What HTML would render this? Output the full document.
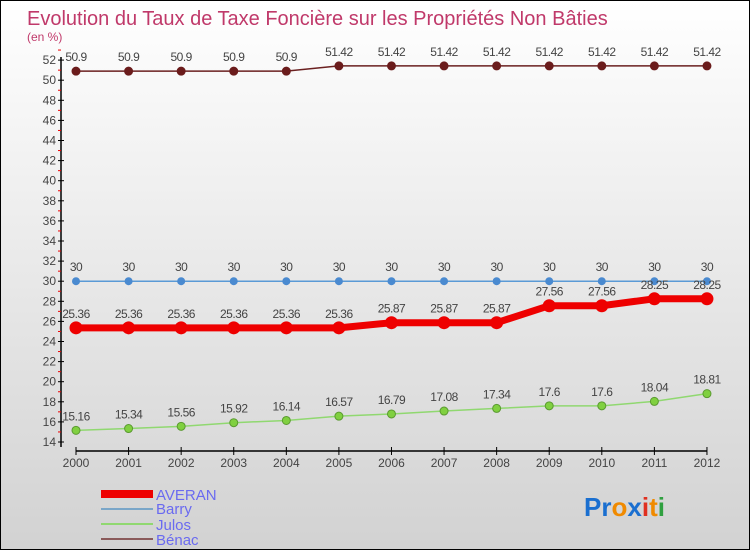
<!DOCTYPE html>
<html><head><meta charset="utf-8"><style>
body{margin:0}
#c{position:relative;width:748px;height:548px;border:1px solid #000;background:linear-gradient(#fff,#d2d2d2);overflow:hidden;font-family:"Liberation Sans",sans-serif}
</style></head><body>
<div id="c">
<svg id="s" width="748" height="548" xmlns="http://www.w3.org/2000/svg">
<text x="26" y="24" font-size="20" fill="#c0396a">Evolution du Taux de Taxe Foncière sur les Propriétés Non Bâties</text>
<text x="26" y="40" font-size="12" fill="#c0396a">(en %)</text>
<g id="g"></g>
<g>
<rect x="100" y="489" width="52" height="8" fill="#e00"/>
<text x="155" y="499" font-size="15" fill="#6a6af0">AVERAN</text>
<rect x="100" y="507" width="52" height="2" fill="#7aa6c8"/>
<text x="155" y="513" font-size="15" fill="#6a6af0">Barry</text>
<rect x="100" y="522" width="52" height="2" fill="#90d870"/>
<text x="155" y="529" font-size="15" fill="#6a6af0">Julos</text>
<rect x="100" y="537" width="52" height="2" fill="#8a5a5a"/>
<text x="155" y="544" font-size="15" fill="#6a6af0">Bénac</text>
</g>
<text x="583" y="515" font-size="26" font-weight="bold"><tspan fill="#1a6fd0">Pr</tspan><tspan fill="#f08a00">o</tspan><tspan fill="#1a6fd0">x</tspan><tspan fill="#e03020">i</tspan><tspan fill="#f08a00">t</tspan><tspan fill="#30a040">i</tspan></text>
</svg>
</div>
<script>
const years=[2000,2001,2002,2003,2004,2005,2006,2007,2008,2009,2010,2011,2012];
const averan=[25.36,25.36,25.36,25.36,25.36,25.36,25.87,25.87,25.87,27.56,27.56,28.25,28.25];
const barry=[30,30,30,30,30,30,30,30,30,30,30,30,30];
const julos=[15.16,15.34,15.56,15.92,16.14,16.57,16.79,17.08,17.34,17.6,17.6,18.04,18.81];
const benac=[50.9,50.9,50.9,50.9,50.9,51.42,51.42,51.42,51.42,51.42,51.42,51.42,51.42];
const yTicks=[14,16,18,20,22,24,26,28,30,32,34,36,38,40,42,44,46,48,50,52];
const NS="http://www.w3.org/2000/svg",g=document.getElementById('g');
const X=i=>75+i*52.58, Y=v=>441-(v-14)*10.05;
function el(t,a){const e=document.createElementNS(NS,t);for(const k in a)e.setAttribute(k,a[k]);g.appendChild(e);return e;}
let ax=el('line',{x1:60,y1:56,x2:60,y2:446,stroke:'#000','stroke-width':1.5});


let xa=el('line',{x1:75,y1:450,x2:706,y2:450,stroke:'#000','stroke-width':1.5});


yTicks.forEach(v=>{
 el('line',{x1:57,x2:63,y1:Y(v),y2:Y(v),stroke:'#000'});
 el('line',{x1:57,x2:60,y1:Y(v+1),y2:Y(v+1),stroke:'#e00'});
 const t=el('text',{x:55,y:Y(v)+4,'font-size':12,fill:'#444','text-anchor':'end'});t.textContent=v;
 
 
});
years.forEach((y,i)=>{
 el('line',{x1:X(i),x2:X(i),y1:446,y2:454,stroke:'#000'});
 const t=el('text',{x:X(i),y:466,'font-size':12,fill:'#444','text-anchor':'middle'});t.textContent=y;
 
 
});
function series(d,name,col,w,pt,ptc,r){
 const p=el('polyline',{points:d.map((v,i)=>X(i)+','+Y(v)).join(' '),fill:'none',stroke:col,'stroke-width':w});
 
 
 d.forEach((v,i)=>{
  const c=el('circle',{cx:X(i),cy:Y(v),r:r,fill:pt,stroke:ptc});
  
  
  const t=el('text',{x:X(i),y:Y(v)-10,'font-size':12,fill:'#444','text-anchor':'middle','letter-spacing':'-0.5'});t.textContent=v;
  
  
 });
}
series(benac,'benac','#6b2020',1.5,'#6b1c1c','#6b1c1c',4);
series(barry,'barry','#5a9ad6',1.5,'#4a8ad0','#4a8ad0',3.5);
series(julos,'julos','#90d870',1.5,'#80d040','#5a9a30',4);
series(averan,'averan','#ee0000',7,'#ee0000','#ee0000',6);
</script>
</body></html>
